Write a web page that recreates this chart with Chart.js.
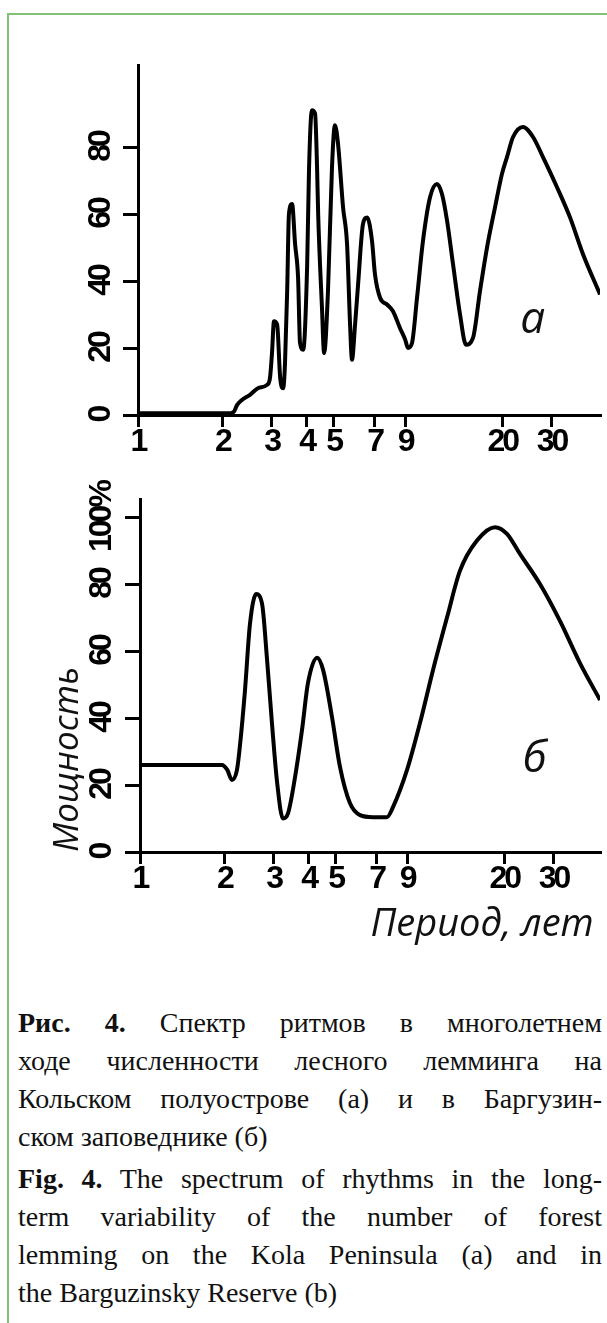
<!DOCTYPE html>
<html lang="ru">
<head>
<meta charset="UTF-8">
<title>Спектр ритмов численности лесного лемминга</title>
<script src="https://cdn.jsdelivr.net/npm/chart.js@4.4.1/dist/chart.umd.min.js"></script>
<style>
    body {
        margin: 0;
        background: #fff;
        width: 607px;
        height: 1323px;
        position: relative;
        overflow: hidden;
    }
    .frame {
        position: absolute;
        left: 7px;
        top: 13px;
        width: 700px;
        height: 1400px;
        border-left: 2px solid #84c076;
        border-top: 2px solid #84c076;
    }
    #chartA { position: absolute; left: 0; top: 0; }
    #chartB { position: absolute; left: 0; top: 470px; }
    .caption {
        position: absolute;
        left: 18px;
        width: 584px;
        font-family: 'Liberation Serif', serif;
        font-size: 28px;
        line-height: 38px;
        color: #111;
    }
    .caption div { text-align: justify; text-align-last: justify; }
    .caption div.last { text-align-last: left; }
</style>
</head>
<body>
<div class="frame"></div>
<canvas id="chartA" width="607" height="470"></canvas>
<canvas id="chartB" width="607" height="490"></canvas>

<div class="caption" style="top:1004px">
    <div><b>Рис. 4.</b> Спектр ритмов в многолетнем</div>
    <div>ходе численности лесного лемминга на</div>
    <div>Кольском полуострове (а) и в Баргузин-</div>
    <div class="last">ском заповеднике (б)</div>
</div>
<div class="caption" style="top:1160px">
    <div><b>Fig. 4.</b> The spectrum of rhythms in the long-</div>
    <div>term variability of the number of forest</div>
    <div>lemming on the Kola Peninsula (a) and in</div>
    <div class="last">the Barguzinsky Reserve (b)</div>
</div>

<script>
    // подписи осей
    const periodTicks = [1, 2, 3, 4, 5, 7, 9, 20, 30];
    const powerTicksA = [0, 20, 40, 60, 80];
    const powerTicksB = [0, 20, 40, 60, 80, 100];

    // (а) Кольский полуостров: период, лет / мощность
    const periodA = [1, 1.6, 2.1, 2.2, 2.26, 2.35, 2.51, 2.68, 2.89, 2.96,
        3.01, 3.06, 3.14, 3.22, 3.30, 3.35, 3.41, 3.46, 3.55, 3.64,
        3.73, 3.79, 3.89, 4.02, 4.08, 4.18, 4.29, 4.36, 4.40, 4.54,
        4.62, 4.77, 4.93, 5.05, 5.18, 5.40, 5.58, 5.72, 5.81, 5.96,
        6.11, 6.36, 6.58, 6.85, 7.02, 7.32, 7.75, 8.14, 8.62, 9.0,
        9.21, 9.52, 9.92, 10.42, 11.04, 11.69, 12.18, 12.70, 13.34, 14.13,
        14.84, 15.72, 16.65, 17.64, 18.84, 19.95, 20.79, 21.85, 23.71, 25.75,
        27.95, 31.37, 34.91, 38.85, 44.67];
    const powerA = [0.5, 0.5, 0.5, 1, 3, 4.5, 6, 8, 9, 11,
        18.5, 28, 27, 11, 8, 15.5, 37, 60, 63, 51,
        41, 21.5, 19.5, 45, 73, 91, 90, 74, 60, 32,
        18.5, 37, 74, 86.5, 81, 62, 51, 27, 16.5, 27,
        39, 57, 59, 52, 42, 35, 33, 31, 26, 22.5,
        20, 21.5, 35, 52, 65, 69, 66, 58, 45, 30,
        21, 23, 37, 50, 62, 72, 77, 83, 86, 83,
        77, 68, 59, 48, 36];

    // (б) Баргузинский заповедник
    const periodB = [1, 1.5, 1.96, 2.05, 2.13, 2.22, 2.28, 2.37, 2.47, 2.60,
        2.73, 2.84, 2.96, 3.09, 3.24, 3.38, 3.58, 3.79, 3.98, 4.29,
        4.51, 4.85, 5.18, 5.62, 6.11, 6.79, 7.62, 8.01, 8.99, 10.0,
        11.13, 12.49, 13.90, 15.98, 18.53, 20.45, 22.76, 26.83, 31.62, 37.28,
        43.96];
    const powerB = [26, 26, 26, 24.5, 21.5, 24.5, 32.5, 48, 68, 77,
        74, 58, 38.5, 20.6, 10, 11.6, 22.4, 36.4, 50.4, 58,
        54.3, 40.3, 25.4, 14.6, 11, 10.4, 10.4, 13.4, 24.5, 38.5,
        54.3, 70, 84, 93, 97, 95, 89, 80, 69, 56.4,
        45.4];

    const tickFont = { family: "'Liberation Sans', Arial, sans-serif", size: 32, weight: 'bold' };
    const italicFont = { family: "'Open Sans', sans-serif", size: 35, style: 'italic', weight: 'normal' };

    function toPoints(xs, ys) {
        return xs.map((x, i) => ({ x: x, y: ys[i] }));
    }

    // буква панели (а / б) на поле графика; потом — узкий шрифт для цифр осей
    const panelLabel = {
        id: 'panelLabel',
        afterDatasetsDraw(chart, args, opts) {
            const ctx = chart.ctx;
            ctx.save();
            ctx.font = 'italic 44px "Open Sans"';
            ctx.fillStyle = '#111';
            ctx.textAlign = 'center';
            ctx.textBaseline = 'alphabetic';
            ctx.fillText(opts.text,
                chart.scales.x.getPixelForValue(opts.x),
                chart.scales.y.getPixelForValue(opts.y));
            ctx.restore();
            ctx.letterSpacing = '-3px';
        },
        afterDraw(chart) {
            chart.ctx.letterSpacing = '0px';
        }
    };

    function spectrumChart(id, xs, ys, cfg) {
        return new Chart(document.getElementById(id), {
            type: 'line',
            data: {
                datasets: [{
                    data: toPoints(xs, ys),
                    borderColor: '#000',
                    borderWidth: 4,
                    pointRadius: 0,
                    cubicInterpolationMode: 'monotone',
                    fill: false
                }]
            },
            plugins: [panelLabel],
            options: {
                responsive: false,
                animation: false,
                layout: { padding: { top: cfg.top, right: 7, left: 0, bottom: 0 } },
                plugins: {
                    legend: { display: false },
                    tooltip: { enabled: false },
                    panelLabel: cfg.label
                },
                scales: {
                    x: {
                        type: 'logarithmic',
                        min: 1,
                        max: cfg.xMax,
                        afterBuildTicks: s => { s.ticks = periodTicks.map(v => ({ value: v })); },
                        afterFit: s => { s.height = cfg.xHeight; },
                        border: { color: '#000', width: 3 },
                        grid: { drawOnChartArea: false, color: '#000', lineWidth: 3, tickLength: 12 },
                        ticks: {
                            color: '#000', font: tickFont, padding: -4, z: 1,
                            maxRotation: 0, autoSkip: false,
                            callback: v => String(v)
                        },
                        title: cfg.xTitle || { display: false }
                    },
                    y: {
                        min: 0,
                        max: cfg.yMax,
                        afterBuildTicks: s => { s.ticks = cfg.yTicks.map(v => ({ value: v })); },
                        afterFit: s => { s.width = cfg.yWidth; },
                        border: { color: '#000', width: 3 },
                        grid: { drawOnChartArea: false, color: '#000', lineWidth: 3, tickLength: 15 },
                        ticks: {
                            color: '#000', font: tickFont, z: 1,
                            minRotation: 90, maxRotation: 90, autoSkip: false,
                            crossAlign: 'center', padding: cfg.yPad,
                            callback: cfg.yLabel
                        },
                        title: cfg.yTitle || { display: false }
                    }
                }
            }
        });
    }

    spectrumChart('chartA', periodA, powerA, {
        top: 65, xHeight: 55, yWidth: 138, xMax: 44.67, yMax: 104.5,
        yTicks: powerTicksA, yPad: 4,
        yLabel: v => String(v),
        label: { text: 'а', x: 25.7, y: 24.5 }
    });

    spectrumChart('chartB', periodB, powerB, {
        top: 29, xHeight: 108, yWidth: 140, xMax: 43.96, yMax: 105.4,
        yTicks: powerTicksB, yPad: -18,
        yLabel: v => (v === 100 ? '100%' : String(v)),
        label: { text: 'б', x: 25.7, y: 23.9 },
        xTitle: { display: true, text: 'Период, лет\u2009', align: 'end', color: '#111',
                  font: Object.assign({}, italicFont, { size: 38 }), padding: { top: 0, bottom: 12 } },
        yTitle: { display: true, text: 'Мощность', align: 'start', color: '#111',
                  font: italicFont, padding: { top: 47, bottom: 0 } }
    });
</script>
</body>
</html>
